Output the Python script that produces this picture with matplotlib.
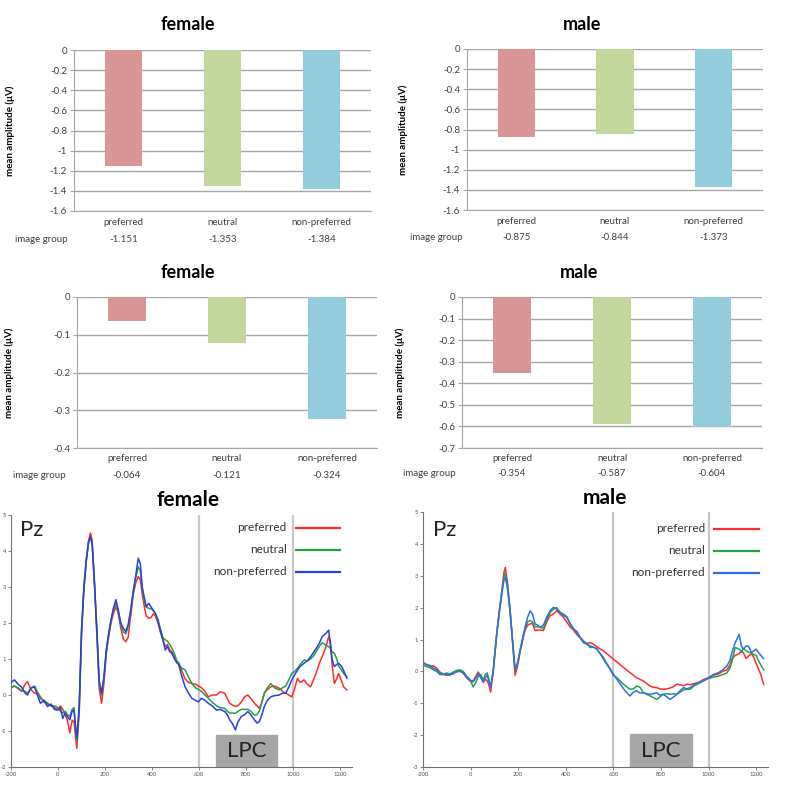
import matplotlib
matplotlib.use('Agg')
import matplotlib.pyplot as plt
import numpy as np
from matplotlib.patches import Rectangle
from matplotlib.ticker import FuncFormatter

plt.rcParams['font.family'] = ['Lato', 'DejaVu Sans']
plt.rcParams['axes.unicode_minus'] = False

# bar chart data (mean amplitude, uV)
groups = ['preferred', 'neutral', 'non-preferred']
bar_colors = ['#d99694', '#c3d69b', '#93cddd']
female_top = [-1.151, -1.353, -1.384]
male_top = [-0.875, -0.844, -1.373]
female_mid = [-0.064, -0.121, -0.324]
male_mid = [-0.354, -0.587, -0.604]

# ERP waveforms at Pz (ms, uV)
f_time = [-200, -185, -170, -155, -140, -130, -115, -100, -85, -75, -60, -45, -30, -15, 0, 10, 20, 30, 40, 50,
          60, 68, 75, 80, 90, 100, 110, 120, 130, 138, 145, 155, 165, 175, 185, 195, 205, 215, 225, 235,
          246, 255, 267, 278, 288, 298, 309, 320, 330, 341, 350, 358, 367, 375, 386, 395, 405, 414, 425, 435,
          445, 456, 465, 475, 484, 495, 505, 512, 525, 540, 555, 569, 585, 597, 610, 625, 639, 655, 674, 690,
          709, 720, 730, 742, 754, 765, 779, 793, 807, 820, 835, 846, 856, 867, 877, 890, 905, 920, 940, 955,
          968, 980, 994, 1005, 1018, 1030, 1046, 1060, 1074, 1088, 1102, 1112, 1123, 1137, 1151, 1158, 1165, 1175, 1185, 1193,
          1205, 1214, 1228]
f_pref = [0.20, 0.25, 0.18, 0.10, 0.30, 0.37, 0.15, 0.05, 0.05, -0.05, -0.20, -0.25, -0.30, -0.35, -0.40, -0.30, -0.40, -0.55, -0.70, -1.05,
          -0.70, -0.75, -1.20, -1.48, -0.50, 1.70, 2.90, 3.70, 4.30, 4.50, 4.30, 3.10, 1.70, 0.20, -0.23, 0.30, 1.15, 1.60, 2.00, 2.25,
          2.45, 2.30, 1.85, 1.55, 1.48, 1.60, 2.20, 2.80, 3.10, 3.29, 3.20, 2.80, 2.45, 2.20, 2.13, 2.15, 2.25, 2.20, 2.00, 1.75,
          1.55, 1.35, 1.40, 1.25, 1.20, 1.05, 0.90, 0.85, 0.70, 0.45, 0.35, 0.32, 0.30, 0.25, 0.20, 0.10, -0.05, 0.00, 0.00, 0.09,
          0.05, -0.10, -0.23, -0.28, -0.32, -0.30, -0.20, -0.05, 0.00, -0.10, -0.23, -0.30, -0.37, -0.20, 0.05, 0.15, 0.23, 0.25, 0.19, 0.10,
          0.05, 0.00, -0.05, 0.15, 0.46, 0.35, 0.42, 0.30, 0.23, 0.45, 0.69, 0.90, 1.06, 1.30, 1.62, 1.50, 0.88, 0.32, 0.45, 0.60,
          0.40, 0.23, 0.14]
f_neut = [0.22, 0.25, 0.20, 0.12, 0.10, 0.05, 0.18, 0.25, 0.05, -0.10, -0.15, -0.22, -0.30, -0.30, -0.35, -0.45, -0.50, -0.45, -0.55, -0.60,
          -0.40, -0.35, -1.00, -1.30, -0.40, 1.80, 3.00, 3.75, 4.25, 4.40, 4.20, 3.10, 1.80, 0.35, 0.00, 0.45, 1.20, 1.65, 2.05, 2.35,
          2.55, 2.35, 1.95, 1.75, 1.70, 1.90, 2.35, 2.85, 3.25, 3.56, 3.45, 2.95, 2.60, 2.45, 2.40, 2.40, 2.35, 2.25, 2.10, 1.85,
          1.60, 1.53, 1.50, 1.40, 1.30, 1.15, 0.95, 0.90, 0.75, 0.70, 0.50, 0.32, 0.20, 0.15, 0.10, 0.00, -0.09, -0.20, -0.30, -0.35,
          -0.37, -0.45, -0.50, -0.50, -0.51, -0.45, -0.40, -0.40, -0.40, -0.45, -0.56, -0.55, -0.45, -0.20, 0.05, 0.20, 0.32, 0.20, 0.14, 0.20,
          0.25, 0.40, 0.60, 0.65, 0.74, 0.85, 0.97, 0.95, 1.00, 1.10, 1.25, 1.35, 1.45, 1.40, 1.34, 1.30, 1.20, 1.16, 1.00, 0.80,
          0.70, 0.60, 0.51]
f_nonp = [0.35, 0.42, 0.30, 0.22, 0.05, 0.00, 0.20, 0.22, -0.05, -0.23, -0.15, -0.32, -0.25, -0.40, -0.42, -0.35, -0.65, -0.50, -0.60, -0.69,
          -0.45, -0.42, -0.90, -1.20, -0.30, 1.80, 3.00, 3.75, 4.25, 4.40, 4.20, 3.10, 1.80, 0.40, 0.05, 0.50, 1.25, 1.70, 2.08, 2.40,
          2.65, 2.40, 2.00, 1.85, 1.76, 1.95, 2.36, 2.90, 3.29, 3.80, 3.65, 3.00, 2.70, 2.45, 2.55, 2.45, 2.35, 2.27, 2.05, 1.80,
          1.55, 1.25, 1.35, 1.20, 1.16, 1.00, 0.90, 0.88, 0.55, 0.23, 0.05, -0.09, -0.15, -0.19, -0.09, -0.15, -0.23, -0.30, -0.42, -0.40,
          -0.46, -0.55, -0.69, -0.80, -0.97, -0.75, -0.60, -0.55, -0.46, -0.55, -0.69, -0.78, -0.74, -0.55, -0.32, -0.15, -0.05, -0.02, 0.00, 0.05,
          0.05, 0.20, 0.42, 0.55, 0.69, 0.80, 0.88, 0.95, 1.06, 1.20, 1.34, 1.45, 1.62, 1.70, 1.80, 1.40, 1.00, 0.79, 0.85, 0.88,
          0.80, 0.69, 0.46]

m_time = [-200, -185, -171, -157, -143, -129, -115, -101, -87, -73, -59, -45, -31, -17, -3, 11, 22, 32, 43, 53,
          62, 70, 78, 84, 95, 110, 120, 131, 140, 146, 155, 166, 176, 187, 197, 208, 218, 229, 240, 250,
          260, 271, 282, 292, 306, 320, 334, 348, 362, 376, 390, 404, 418, 432, 447, 461, 475, 489, 503, 517,
          530, 545, 557, 573, 585, 600, 615, 635, 650, 670, 684, 698, 712, 726, 740, 754, 768, 782, 796, 810,
          825, 839, 853, 867, 881, 895, 909, 923, 940, 958, 980, 1000, 1020, 1042, 1060, 1077, 1090, 1098, 1112, 1129,
          1138, 1147, 1158, 1168, 1180, 1190, 1200, 1211, 1220, 1227, 1232]
m_pref = [0.25, 0.22, 0.15, 0.18, 0.10, -0.02, -0.10, -0.12, -0.10, -0.08, 0.00, 0.02, -0.05, -0.20, -0.30, -0.30, -0.15, -0.02, -0.15, -0.35,
          -0.25, -0.30, -0.45, -0.65, 0.00, 1.20, 1.85, 2.50, 3.10, 3.26, 2.80, 1.90, 0.95, -0.12, 0.15, 0.60, 0.95, 1.30, 1.45, 1.49,
          1.50, 1.28, 1.30, 1.30, 1.28, 1.55, 1.75, 1.80, 1.90, 1.80, 1.70, 1.55, 1.40, 1.30, 1.15, 1.05, 0.90, 0.88, 0.90, 0.85,
          0.78, 0.70, 0.65, 0.55, 0.48, 0.38, 0.30, 0.17, 0.08, -0.04, -0.12, -0.20, -0.25, -0.30, -0.38, -0.46, -0.50, -0.51, -0.55, -0.56,
          -0.55, -0.52, -0.48, -0.40, -0.42, -0.45, -0.40, -0.42, -0.38, -0.35, -0.25, -0.20, -0.12, -0.08, 0.00, 0.05, 0.20, 0.38, 0.50, 0.55,
          0.65, 0.58, 0.40, 0.48, 0.55, 0.45, 0.25, 0.06, -0.10, -0.30, -0.40]
m_neut = [0.20, 0.15, 0.12, 0.05, 0.00, -0.10, -0.10, -0.05, -0.08, -0.02, 0.03, 0.05, 0.00, -0.15, -0.25, -0.49, -0.35, -0.15, -0.10, -0.28,
          -0.10, -0.05, -0.30, -0.50, 0.00, 1.18, 1.80, 2.45, 2.95, 3.10, 2.70, 1.90, 1.00, 0.02, 0.25, 0.66, 1.00, 1.35, 1.55, 1.60,
          1.55, 1.40, 1.40, 1.38, 1.35, 1.60, 1.85, 1.95, 2.00, 1.85, 1.80, 1.72, 1.50, 1.35, 1.20, 1.05, 0.90, 0.85, 0.80, 0.75,
          0.72, 0.55, 0.40, 0.22, 0.08, -0.12, -0.20, -0.35, -0.45, -0.56, -0.55, -0.46, -0.50, -0.67, -0.72, -0.77, -0.82, -0.88, -0.80, -0.72,
          -0.70, -0.72, -0.70, -0.72, -0.65, -0.58, -0.56, -0.56, -0.45, -0.38, -0.30, -0.22, -0.18, -0.15, -0.10, -0.05, 0.10, 0.30, 0.75, 0.70,
          0.60, 0.72, 0.65, 0.60, 0.58, 0.53, 0.50, 0.32, 0.20, 0.11, 0.05]
m_nonp = [0.30, 0.20, 0.19, 0.10, 0.05, -0.05, -0.07, -0.10, -0.12, -0.05, -0.02, 0.00, -0.05, -0.18, -0.28, -0.33, -0.20, -0.07, -0.20, -0.33,
          -0.20, -0.12, -0.35, -0.50, 0.00, 1.18, 1.80, 2.43, 2.85, 2.95, 2.60, 1.90, 1.00, 0.08, 0.25, 0.66, 1.00, 1.39, 1.70, 1.90,
          1.80, 1.49, 1.45, 1.39, 1.45, 1.70, 1.90, 2.01, 1.95, 1.85, 1.75, 1.70, 1.50, 1.33, 1.25, 1.07, 0.95, 0.86, 0.75, 0.76,
          0.70, 0.55, 0.45, 0.24, 0.10, -0.09, -0.25, -0.46, -0.62, -0.77, -0.65, -0.61, -0.68, -0.67, -0.70, -0.72, -0.70, -0.67, -0.75, -0.72,
          -0.80, -0.88, -0.80, -0.72, -0.60, -0.51, -0.55, -0.51, -0.42, -0.35, -0.28, -0.20, -0.10, -0.04, 0.05, 0.17, 0.35, 0.58, 0.90, 1.16,
          0.80, 0.69, 0.80, 0.79, 0.60, 0.64, 0.70, 0.58, 0.50, 0.43, 0.40]

W, H = 799, 790
fig = plt.figure(figsize=(W / 100, H / 100), dpi=100)


def px_rect(left, top, right, bottom):
    return [left / W, 1 - bottom / H, (right - left) / W, (bottom - top) / H]


def bar_panel(rect, title, title_xy, vals, ymin, step, label_x, table_x, lab_pad, table_dy):
    l, t, r, b = rect
    ax = fig.add_axes(px_rect(l, t, r, b))
    xs = np.arange(len(groups))
    ax.bar(xs, vals, width=0.38, color=bar_colors, zorder=3)
    ax.set_xlim(-0.5, 2.5)
    ax.set_ylim(ymin, 0)
    n = int(round(-ymin / step))
    ax.set_yticks([round(-i * step, 2) for i in range(n + 1)])
    ax.yaxis.set_major_formatter(FuncFormatter(lambda v, p: f'{v:g}'))
    ax.grid(axis='y', color='#a6a6a6', lw=1, zorder=0)
    for s in ['top', 'right']:
        ax.spines[s].set_visible(False)
    ax.spines['left'].set_color('#a6a6a6')
    ax.spines['bottom'].set_color('#a6a6a6')
    ax.tick_params(axis='y', length=3, color='#a6a6a6', labelsize=7, labelcolor='#404040', pad=2)
    ax.set_xticks(xs, groups)
    ax.tick_params(axis='x', length=0, labelsize=7, labelcolor='#404040', pad=lab_pad)
    ax.set_ylabel('mean amplitude (μV)', fontsize=7, fontweight='bold')
    ax.yaxis.set_label_coords(label_x, 0.5)
    # data table row
    hgt = b - t
    for i, v in enumerate(vals):
        ax.text(i, -table_dy / hgt, f'{v:.3f}', transform=ax.get_xaxis_transform(),
                ha='center', va='center', fontsize=7, color='#404040')
    fig.text(table_x / W, 1 - (b + table_dy) / H, 'image group', ha='left', va='center',
             fontsize=7, color='#404040')
    fig.text(title_xy[0] / W, 1 - title_xy[1] / H, title, ha='center', va='center',
             fontsize=13, fontweight='bold')


bar_panel((74, 50, 371, 211), 'female', (188, 25), female_top, -1.6, 0.2, -0.2, 15, 5, 28)
bar_panel((467, 49, 763, 210), 'male', (582, 24), male_top, -1.6, 0.2, -0.2, 410, 5, 27)
bar_panel((77, 297, 377, 448), 'female', (188, 273), female_mid, -0.4, 0.1, -0.21, 13, 4, 27)
bar_panel((462, 297, 762, 448), 'male', (579, 273), male_mid, -0.7, 0.1, -0.19, 403, 4, 25)


def erp_panel(rect, title, title_xy, t, pref, neut, nonp, ymin, lpc_top, leg, blue):
    ax = fig.add_axes(px_rect(*rect))
    ax.set_xlim(-200, 1250)
    ax.set_ylim(ymin, 5)
    ax.axvline(600, color='#c8c8c8', lw=1.6, zorder=1)
    ax.axvline(1000, color='#c8c8c8', lw=1.6, zorder=1)
    ax.add_patch(Rectangle((670, ymin), 262, lpc_top - ymin, color='#a6a6a6', zorder=1))
    ax.text(801, (ymin + lpc_top) / 2, 'LPC', ha='center', va='center', fontsize=16, color='#222222')
    ax.text(-160, leg[1][0] - 0.05, 'Pz', ha='left', va='center', fontsize=16, color='#222222')
    colors = ['#ff2b2b', '#22a04a', blue]
    for vals, c in zip([pref, neut, nonp], colors):
        ax.plot(t, vals, color=c, lw=1.1, zorder=3)
    # legend drawn by hand
    tx, x0, x1 = leg[0]
    for name, y, c in zip(groups, leg[1], colors):
        ax.text(tx, y, name, ha='right', va='center', fontsize=8.5, color='#333333')
        ax.plot([x0, x1], [y, y], color=c, lw=1.6)
    ax.set_xticks(range(-200, 1201, 200))
    ax.set_yticks(range(int(ymin), 6))
    for s in ['top', 'right']:
        ax.spines[s].set_visible(False)
    for s in ['left', 'bottom']:
        ax.spines[s].set_color('#707070')
    ax.tick_params(length=2.5, width=0.6, color='#707070', labelsize=4.2, labelcolor='#505050', pad=1)
    fig.text(title_xy[0] / W, 1 - title_xy[1] / H, title, ha='center', va='center',
             fontsize=15, fontweight='bold')


erp_panel((11, 515, 352, 767), 'female', (188, 500), f_time, f_pref, f_neut, f_nonp, -2, -1.1,
          ((972, 1010, 1200), [4.64, 4.03, 3.42]), '#2a3fe0')
erp_panel((423, 512, 768, 767), 'male', (605, 498), m_time, m_pref, m_neut, m_nonp, -3, -1.97,
          ((985, 1024, 1211), [4.47, 3.78, 3.09]), '#2f6fe6')

fig.savefig('out.png', dpi=100)
